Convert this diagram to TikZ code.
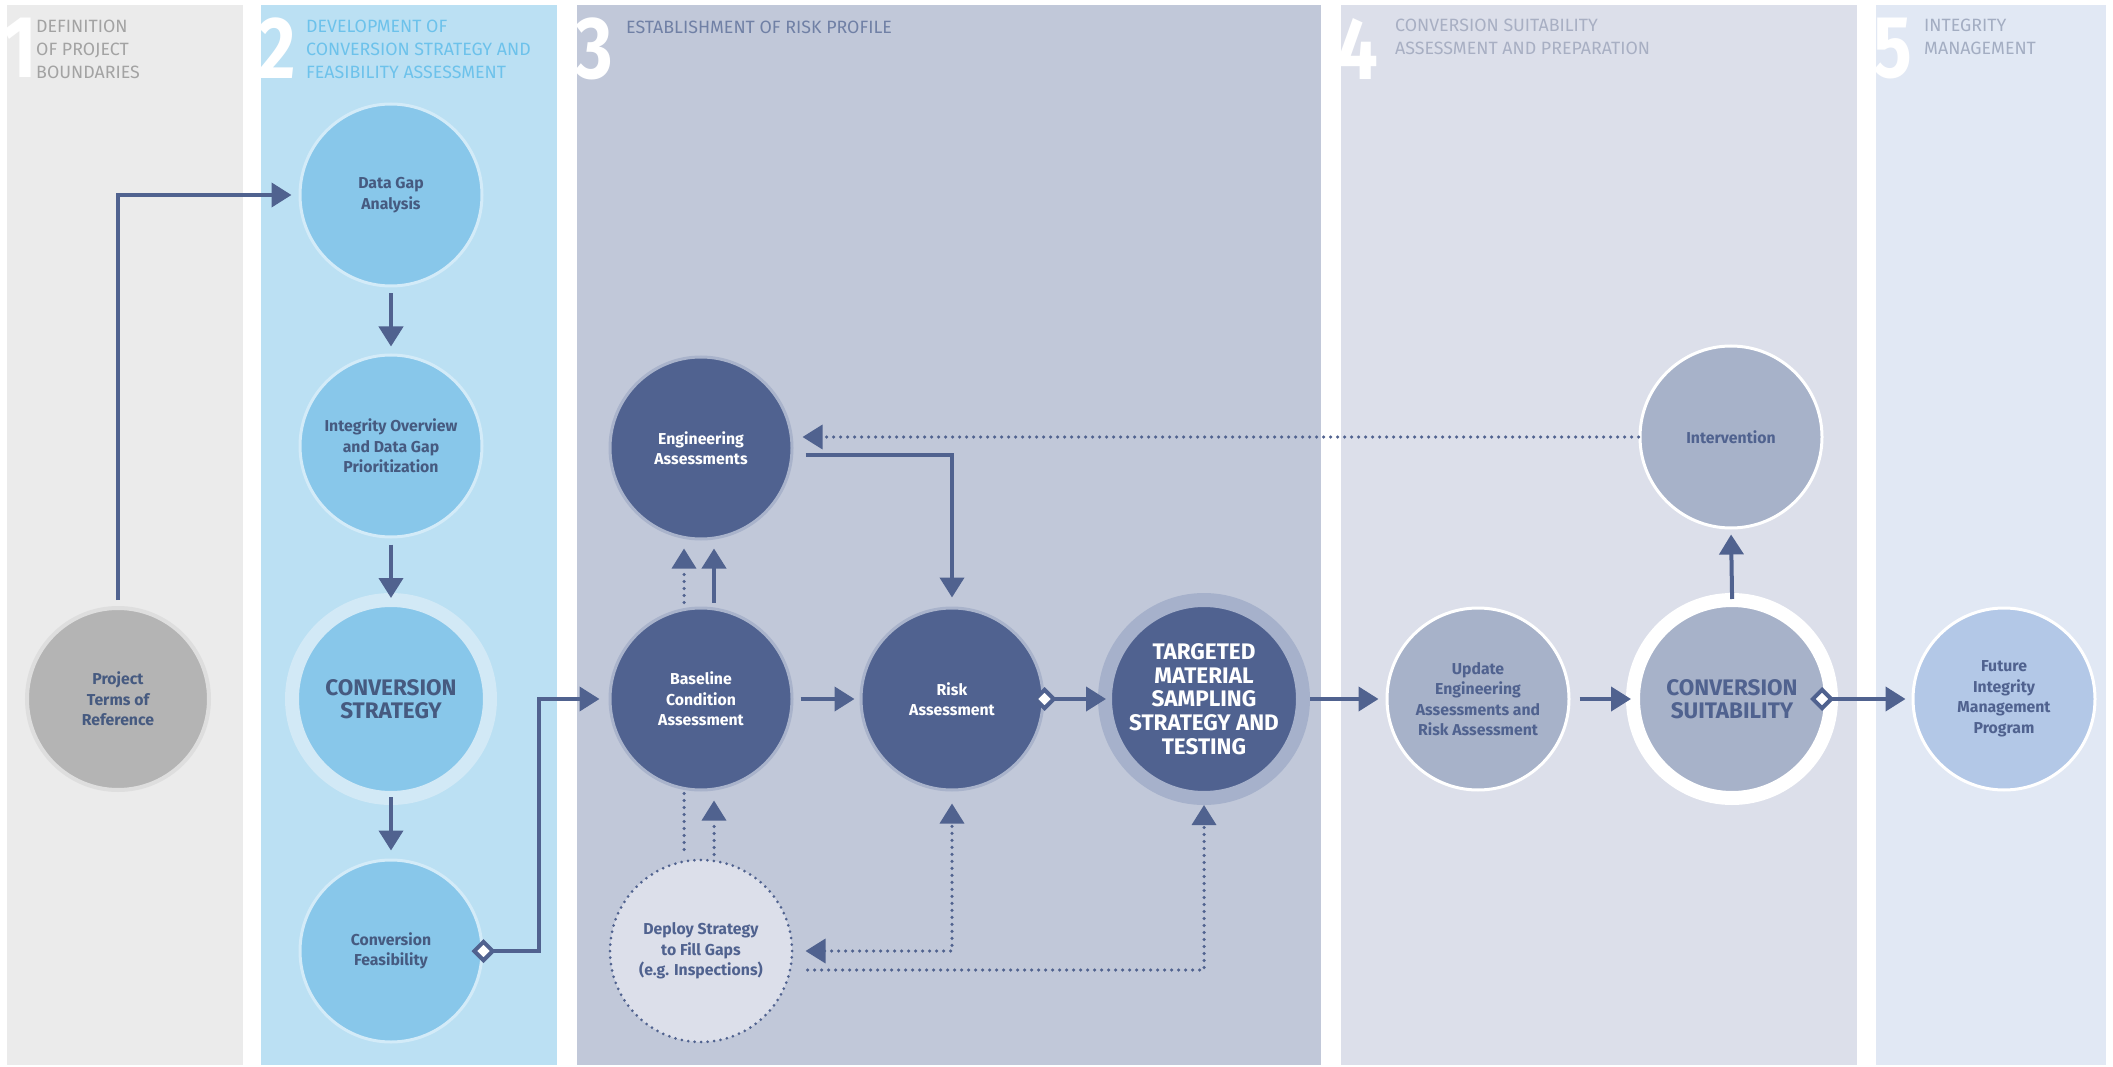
\documentclass[tikz,border=0pt]{standalone}
\usepackage{fontspec}
\setmainfont{Fira Sans}
\usepackage{graphicx}
\usetikzlibrary{arrows.meta,calc}
\definecolor{bgone}{HTML}{EBEBEB}
\definecolor{bgtwo}{HTML}{BBE0F3}
\definecolor{bgthree}{HTML}{C1C8D9}
\definecolor{bgfour}{HTML}{DCDFEA}
\definecolor{bgfive}{HTML}{E1E8F4}
\definecolor{bluenode}{HTML}{88C7EA}
\definecolor{blueborder}{HTML}{D3EBF8}
\definecolor{bluering}{HTML}{D2E9F6}
\definecolor{darknode}{HTML}{506290}
\definecolor{darkborder}{HTML}{A9B3CB}
\definecolor{darkring}{HTML}{A6B1CB}
\definecolor{graynode}{HTML}{A7B2C9}
\definecolor{futnode}{HTML}{B3C8E7}
\definecolor{projnode}{HTML}{B4B4B4}
\definecolor{projborder}{HTML}{DEDEDE}
\definecolor{arr}{HTML}{50628F}
\definecolor{tdark}{HTML}{465A80}
\definecolor{hone}{HTML}{A3A3A3}
\definecolor{htwo}{HTML}{6DC2EB}
\definecolor{hthree}{HTML}{7080A5}
\definecolor{hfour}{HTML}{A8AFC3}
\definecolor{hfive}{HTML}{A3ADC2}
\begin{document}
\begin{tikzpicture}[x=1pt,y=-1pt,
  tipend/.tip={Triangle[length=20pt,width=24pt]},
  tipdia/.tip={Diamond[fill=white,length=24pt,width=24pt]},
  conn/.style={draw=arr, line width=4pt, -tipend},
  dotc/.style={draw=arr, line width=3.5pt, dash pattern=on 0pt off 7pt, line cap=round},
  circ/.style={circle, minimum size=182pt, line width=3pt, inner sep=0pt, align=center,
    font=\bfseries\fontsize{15.8}{20.5}\selectfont},
  bluen/.style={circ, fill=bluenode, draw=blueborder, text=tdark},
  darkn/.style={circ, fill=darknode, draw=darkborder, text=white},
  grayn/.style={circ, fill=graynode, draw=white, text=arr},
  ringn/.style={circle, minimum size=198pt, line width=14pt, inner sep=0pt, align=center,
    font=\bfseries\fontsize{22.5}{23.6}\selectfont},
  num/.style={anchor=north west, inner sep=0pt, text=white, font=\bfseries\fontsize{88}{88}\selectfont},
  head/.style={anchor=north west, inner sep=0pt, align=left, font=\fontsize{17.8}{23}\selectfont}
]
\fill[white] (0,0) rectangle (2113,1067);
\useasboundingbox (0,0) rectangle (2113,1067);
% bands
\fill[bgone] (7,5) rectangle (243,1065);
\fill[bgtwo] (261,5) rectangle (557,1065);
\fill[bgthree] (577,5) rectangle (1321,1065);
\fill[bgfour] (1341,5) rectangle (1857,1065);
\fill[bgfive] (1876,5) rectangle (2106,1065);
% headers
\node[num] (n1) at (3,18) {\scalebox{0.82}[1]{1}};
\node[num] (n2) at (258,18) {\scalebox{0.82}[1]{2}};
\node[num] (n3) at (575,18) {\scalebox{0.82}[1]{3}};
\node[num] (n4) at (1337,18) {\scalebox{0.82}[1]{4}};
\node[num] (n5) at (1873,18) {\scalebox{0.82}[1]{5}};
\node[head, text=hone] (h1) at (36,20) {DEFINITION\\OF PROJECT\\BOUNDARIES};
\node[head, text=htwo] (h2) at (306,20) {DEVELOPMENT OF\\CONVERSION STRATEGY AND\\FEASIBILITY ASSESSMENT};
\node[head, text=hthree] (h3) at (626,21) {ESTABLISHMENT OF RISK PROFILE};
\node[head, text=hfour] (h4) at (1395,19) {CONVERSION SUITABILITY\\ASSESSMENT AND PREPARATION};
\node[head, text=hfive] (h5) at (1924,19) {INTEGRITY\\MANAGEMENT};
% nodes
\node[circ, fill=projnode, draw=projborder, line width=4pt, text=tdark] (proj) at (118,699) {Project\\Terms of\\Reference};
\node[bluen] (dga) at (391,195) {Data Gap\\Analysis};
\node[bluen] (iov) at (391,446) {Integrity Overview\\and Data Gap\\Prioritization};
\node[ringn, fill=bluenode, draw=bluering, text=tdark] (cs) at (391,699) {CONVERSION\\STRATEGY};
\node[bluen] (feas) at (391,951) {Conversion\\Feasibility};
\node[darkn] (eng) at (701,448) {Engineering\\Assessments};
\node[darkn] (bca) at (701,699) {Baseline\\Condition\\Assessment};
\node[darkn] (risk) at (952,699) {Risk\\Assessment};
\node[ringn, fill=darknode, draw=darkring, text=white] (tgt) at (1204,699) {TARGETED\\MATERIAL\\SAMPLING\\STRATEGY AND\\TESTING};
\node[circ, fill=bgfour, draw=arr, dash pattern=on 0pt off 6.5pt, line cap=round, text=arr] (dep) at (701,951) {Deploy Strategy\\to Fill Gaps\\(e.g. Inspections)};
\node[grayn] (upd) at (1478,699) {Update\\Engineering\\Assessments and\\Risk Assessment};
\node[ringn, fill=graynode, draw=white, text=arr] (cs2) at (1732,699) {CONVERSION\\SUITABILITY};
\node[grayn] (intv) at (1731,437) {Intervention};
\node[circ, fill=futnode, draw=white, text=arr] (fut) at (2004,699) {Future\\Integrity\\Management\\Program};
% connectors
\draw[conn, shorten <=6pt, shorten >=7pt] (proj.north) |- (dga.west);
\draw[conn, shorten <=6pt, shorten >=7pt] (dga) -- (iov);
\draw[conn, shorten <=6pt, shorten >=-5pt] (iov) -- (cs);
\draw[conn, shorten <=-8pt, shorten >=8pt] (cs) -- (feas);
\draw[conn, tipdia-tipend, shorten >=9pt] ([xshift=-12pt]feas.east) -- ([xshift=55pt]feas.east) |- (bca.west);
\draw[conn, shorten <=4pt, shorten >=8pt] ([xshift=13pt]bca.north) -- ([xshift=13pt]eng.south);
\draw[dotc, -tipend, shorten <=4pt, shorten >=8pt] ([xshift=-17pt]bca.north) -- ([xshift=-17pt]eng.south);
\draw[conn, shorten <=7pt, shorten >=5pt] (bca) -- (risk);
\draw[conn, tipdia-tipend, shorten >=-8pt] ([xshift=-12pt]risk.east) -- (tgt.west);
\draw[conn, shorten <=12pt, shorten >=9pt] ([yshift=-7pt]eng.east) -| (risk.north);
\draw[conn, shorten >=7pt] (tgt.east) -- (upd.west);
\draw[conn, shorten <=9pt, shorten >=-5pt] (upd.east) -- (cs2.west);
\draw[conn, tipdia-tipend, shorten >=6pt] ([xshift=-28pt]cs2.east) -- (fut.west);
\draw[conn, shorten <=-6pt, shorten >=5pt] (cs2.north) -- (intv.south);
\draw[dotc, -tipend, shorten >=9pt] (intv.west) -- (eng.east |- intv.west);
\draw[dotc, shorten <=2pt, shorten >=6pt] ([xshift=-17pt]bca.south) -- ([xshift=-17pt]dep.north);
\draw[dotc, -tipend, shorten <=4pt, shorten >=9pt] ([xshift=13pt]dep.north) -- ([xshift=13pt]bca.south);
\draw[dotc, tipend-tipend, shorten <=12pt, shorten >=12pt] (dep.east) -| (risk.south);
\draw[dotc, -tipend, shorten <=14pt] ([yshift=-19pt]dep.east) -| (tgt.south);
\end{tikzpicture}
\end{document}
